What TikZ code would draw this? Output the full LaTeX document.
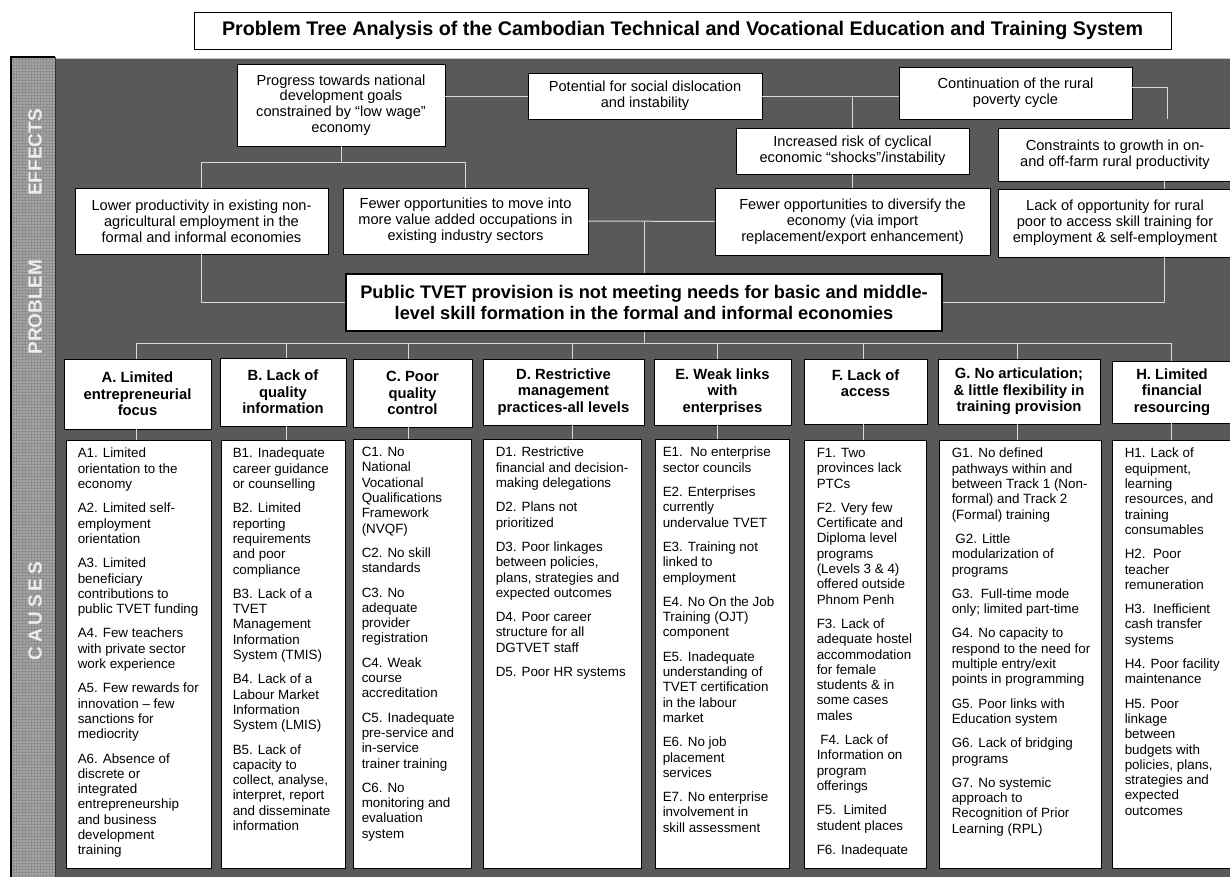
\documentclass[tikz,border=0pt]{standalone}
\usepackage{fontspec}
\setmainfont{Liberation Sans}

\definecolor{panelgray}{HTML}{595959}
\definecolor{stripgray}{HTML}{A4A4A4}
\definecolor{stripline}{HTML}{8E8E8E}
\definecolor{wiregray}{HTML}{D9D9D9}
\definecolor{labelgray}{HTML}{EDEDED}

\newcommand\efffont{\fontsize{14.6}{15.8}\selectfont}
\newcommand\hdrfont{\fontsize{14.8}{16.7}\selectfont\bfseries}
\newcommand\causefont{\fontsize{13.4}{15.3}\selectfont}

% box given by style, name, left, top, right, bottom, text
\newcommand\boxat[7]{%
  \node[#1, minimum width=#5pt-#3pt, minimum height=#6pt-#4pt] (#2)
    at ({(#3+#5)/2},{(#4+#6)/2}) {#7};}
% cause list box: name, left, top, right, bottom, left margin, list text
\newcommand\causeat[7]{%
  \node[cause, minimum width=#4pt-#2pt, minimum height=#5pt-#3pt] (#1)
    at ({(#2+#4)/2},{(#3+#5)/2}) {};
  \node[causetext] (#1t) at ([xshift=#6pt, yshift=-8.5pt]#1.north west) {#7};}

\tikzset{
  box/.style={draw=black, fill=white, line width=0.9pt, inner sep=0pt, align=center},
  effect/.style={box, font=\efffont},
  header/.style={box, font=\hdrfont},
  cause/.style={box},
  causetext/.style={anchor=north west, inner sep=0pt, align=left, font=\causefont},
  wire/.style={draw=wiregray, line width=1pt},
  side/.style={font=\fontsize{19}{19}\selectfont\bfseries, text=labelgray, rotate=90},
}

\begin{document}
\begin{tikzpicture}[x=1pt, y=-1pt]
\useasboundingbox (0,0) rectangle (1230,877);

% background panel and side strip (fine screened texture)
\fill[panelgray] (55,58) rectangle (1232,877);
\draw[gray!45, line width=1pt] (55,58.5) -- (1232,58.5);
\fill[stripgray] (11,57) rectangle (55,877);
\foreach \gx in {13.5,16.5,...,54} \draw[stripline, line width=0.7pt] (\gx,57) -- (\gx,877);
\foreach \gy in {59.5,62.5,...,877} \draw[stripline, line width=0.7pt] (11,\gy) -- (55,\gy);
\draw[black, line width=1.2pt] (11,877) -- (11,57) -- (55,57);
\draw[black!80, line width=0.8pt] (55,57) -- (55,877);

\node[side] (lblE) at (35,152.5) {EFFECTS};
\node[side] (lblP) at (35,307) {PROBLEM};
\node[side] (lblC) at (35,611)
  {C\kern3.8pt A\kern3.8pt U\kern3.8pt S\kern3.8pt E\kern3.8pt S};

% title
\boxat{box, font=\fontsize{19.7}{21}\selectfont\bfseries}{title}{194}{12}{1171}{49}
  {Problem Tree Analysis of the Cambodian Technical and Vocational Education and Training System}

% effects
\boxat{effect}{prog}{237}{64}{445}{146}
  {Progress towards national\\development goals\\constrained by “low wage”\\economy}
\boxat{effect}{pot}{528}{73}{762}{119}
  {Potential for social dislocation\\and instability}
\boxat{effect}{cont}{899}{67}{1132}{119}
  {Continuation of the rural\\poverty cycle}
\boxat{effect}{incr}{736}{128}{969}{174}
  {Increased risk of cyclical\\economic “shocks”/instability}
\boxat{effect}{constr}{998}{128}{1232}{181}
  {Constraints to growth in on-\\and off-farm rural productivity}
\boxat{effect}{lower}{75}{188}{328}{254}
  {Lower productivity in existing non-\\agricultural employment in the\\formal and informal economies}
\boxat{effect}{fmove}{343}{188}{588}{254}
  {Fewer opportunities to move into\\more value added occupations in\\existing industry sectors}
\boxat{effect}{fdiv}{715}{188}{990}{255}
  {Fewer opportunities to diversify the\\economy (via import\\replacement/export enhancement)}
\boxat{effect}{lack}{998}{189}{1232}{257}
  {Lack of opportunity for rural\\poor to access skill training for\\employment \& self-employment}

% core problem
\boxat{box, line width=1.3pt, font=\fontsize{18.2}{21}\selectfont\bfseries}{public}{346}{274}{942}{331}
  {Public TVET provision is not meeting needs for basic and middle-\\level skill formation in the formal and informal economies}

% cause categories
\boxat{header}{hA}{64}{359}{211}{429}{A. Limited\\entrepreneurial\\focus}
\boxat{header}{hB}{220}{358}{346}{426}{B. Lack of\\quality\\information}
\boxat{header}{hC}{353}{359}{472}{427}{C. Poor\\quality\\control}
\boxat{header}{hD}{483}{359}{644}{425}{D. Restrictive\\management\\practices-all levels}
\boxat{header}{hE}{654}{359}{791}{425}{E. Weak links\\with\\enterprises}
\boxat{header}{hF}{804}{359}{927}{424}{F. Lack of\\access\\\mbox{}}
\boxat{header}{hG}{938}{359}{1100}{424}{G. No articulation;\\\& little flexibility in\\training provision}
\boxat{header}{hH}{1112}{361}{1232}{423}{H. Limited\\financial\\resourcing}

% cause lists
\causeat{cA}{66}{440}{211}{868}{12}{%
A1. Limited\\orientation to the\\economy\\[9pt]
A2. Limited self-\\employment\\orientation\\[9pt]
A3. Limited\\beneficiary\\contributions to\\public TVET funding\\[9pt]
A4. Few teachers\\with private sector\\work experience\\[9pt]
A5. Few rewards for\\innovation – few\\sanctions for\\mediocrity\\[9pt]
A6. Absence of\\discrete or\\integrated\\entrepreneurship\\and business\\development\\training}

\causeat{cB}{221}{440}{345}{868}{12}{%
B1. Inadequate\\career guidance\\or counselling\\[9pt]
B2. Limited\\reporting\\requirements\\and poor\\compliance\\[9pt]
B3. Lack of a\\TVET\\Management\\Information\\System (TMIS)\\[9pt]
B4. Lack of a\\Labour Market\\Information\\System (LMIS)\\[9pt]
B5. Lack of\\capacity to\\collect, analyse,\\interpret, report\\and disseminate\\information}

\causeat{cC}{353}{439}{471}{868}{9}{%
C1. No\\National\\Vocational\\Qualifications\\Framework\\(NVQF)\\[9pt]
C2. No skill\\standards\\[9pt]
C3. No\\adequate\\provider\\registration\\[9pt]
C4. Weak\\course\\accreditation\\[9pt]
C5. Inadequate\\pre-service and\\in-service\\trainer training\\[9pt]
C6. No\\monitoring and\\evaluation\\system}

\causeat{cD}{483}{439}{641}{868}{13}{%
D1. Restrictive\\financial and decision-\\making delegations\\[9pt]
D2. Plans not\\prioritized\\[9pt]
D3. Poor linkages\\between policies,\\plans, strategies and\\expected outcomes\\[9pt]
D4. Poor career\\structure for all\\DGTVET staff\\[9pt]
D5. Poor HR systems}

\causeat{cE}{655}{439}{789}{868}{8}{%
E1.\ \ No enterprise\\sector councils\\[9pt]
E2. Enterprises\\currently\\undervalue TVET\\[9pt]
E3. Training not\\linked to\\employment\\[9pt]
E4. No On the Job\\Training (OJT)\\component\\[9pt]
E5. Inadequate\\understanding of\\TVET certification\\in the labour\\market\\[9pt]
E6. No job\\placement\\services\\[9pt]
E7. No enterprise\\involvement in\\skill assessment}

\causeat{cF}{804}{440}{926}{868}{13}{%
F1. Two\\provinces lack\\PTCs\\[9pt]
F2. Very few\\Certificate and\\Diploma level\\programs\\(Levels 3 \& 4)\\offered outside\\Phnom Penh\\[9pt]
F3. Lack of\\adequate hostel\\accommodation\\for female\\students \& in\\some cases\\males\\[9pt]
\ F4. Lack of\\Information on\\program\\offerings\\[9pt]
F5.\ \ Limited\\student places\\[9pt]
F6. Inadequate}

\causeat{cG}{939}{440}{1101}{868}{13}{%
G1. No defined\\pathways within and\\between Track 1 (Non-\\formal) and Track 2\\(Formal) training\\[9pt]
\ G2. Little\\modularization of\\programs\\[9pt]
G3.\ \ Full-time mode\\only; limited part-time\\[9pt]
G4. No capacity to\\respond to the need for\\multiple entry/exit\\points in programming\\[9pt]
G5. Poor links with\\Education system\\[9pt]
G6. Lack of bridging\\programs\\[9pt]
G7. No systemic\\approach to\\Recognition of Prior\\Learning (RPL)}

\causeat{cH}{1112}{440}{1232}{868}{13}{%
H1. Lack of\\equipment,\\learning\\resources, and\\training\\consumables\\[9pt]
H2.\ \ Poor\\teacher\\remuneration\\[9pt]
H3.\ \ Inefficient\\cash transfer\\systems\\[9pt]
H4. Poor facility\\maintenance\\[9pt]
H5. Poor\\linkage\\between\\budgets with\\policies, plans,\\strategies and\\expected\\outcomes}

% connectors among the effects
\coordinate (busE) at (0,163);
\coordinate (rowP) at (0,97);
\coordinate (rowC) at (1167,88);
\coordinate (contEnd) at (1167,119);
\coordinate (colR) at (1164,0);
\draw[wire] (prog.south) -- (prog.south |- busE);
\draw[wire] (lower.north) |- (fmove.north |- busE) -- (fmove.north);
\draw[wire] (prog.east |- rowP) -- (pot.west |- rowP);
\draw[wire] (pot.east |- rowP) -- (cont.west |- rowP);
\draw[wire] (incr.north) -- (incr.north |- rowP);
\draw[wire] (incr.south) -- (fdiv.north);
\draw[wire] (cont.east |- rowC) -| (contEnd);
\draw[wire] (constr.south -| colR) -- (lack.north -| colR);
\draw[wire] (lack.south -| colR) |- (public.east);
\draw[wire] (lower.south) |- (public.west);
\draw[wire] (fmove.east) -- (fdiv.west);
\draw[wire] (public.north) -- (public.north |- fmove.east);

% connectors from the core problem to the causes
\coordinate (busC) at (0,343);
\draw[wire] (public.south) -- (public.south |- busC);
\foreach \c/\sx in {A/136,B/286,C/408,D/572,E/717,F/863,G/1017,H/1171} {
  \coordinate (s\c) at (\sx,0);
  \draw[wire] (busC -| s\c) -- (h\c.north -| s\c);
  \draw[wire] (h\c.south -| s\c) -- (c\c.north -| s\c);
}
\draw[wire] (busC -| sA) -- (busC -| sH);
\end{tikzpicture}
\end{document}
